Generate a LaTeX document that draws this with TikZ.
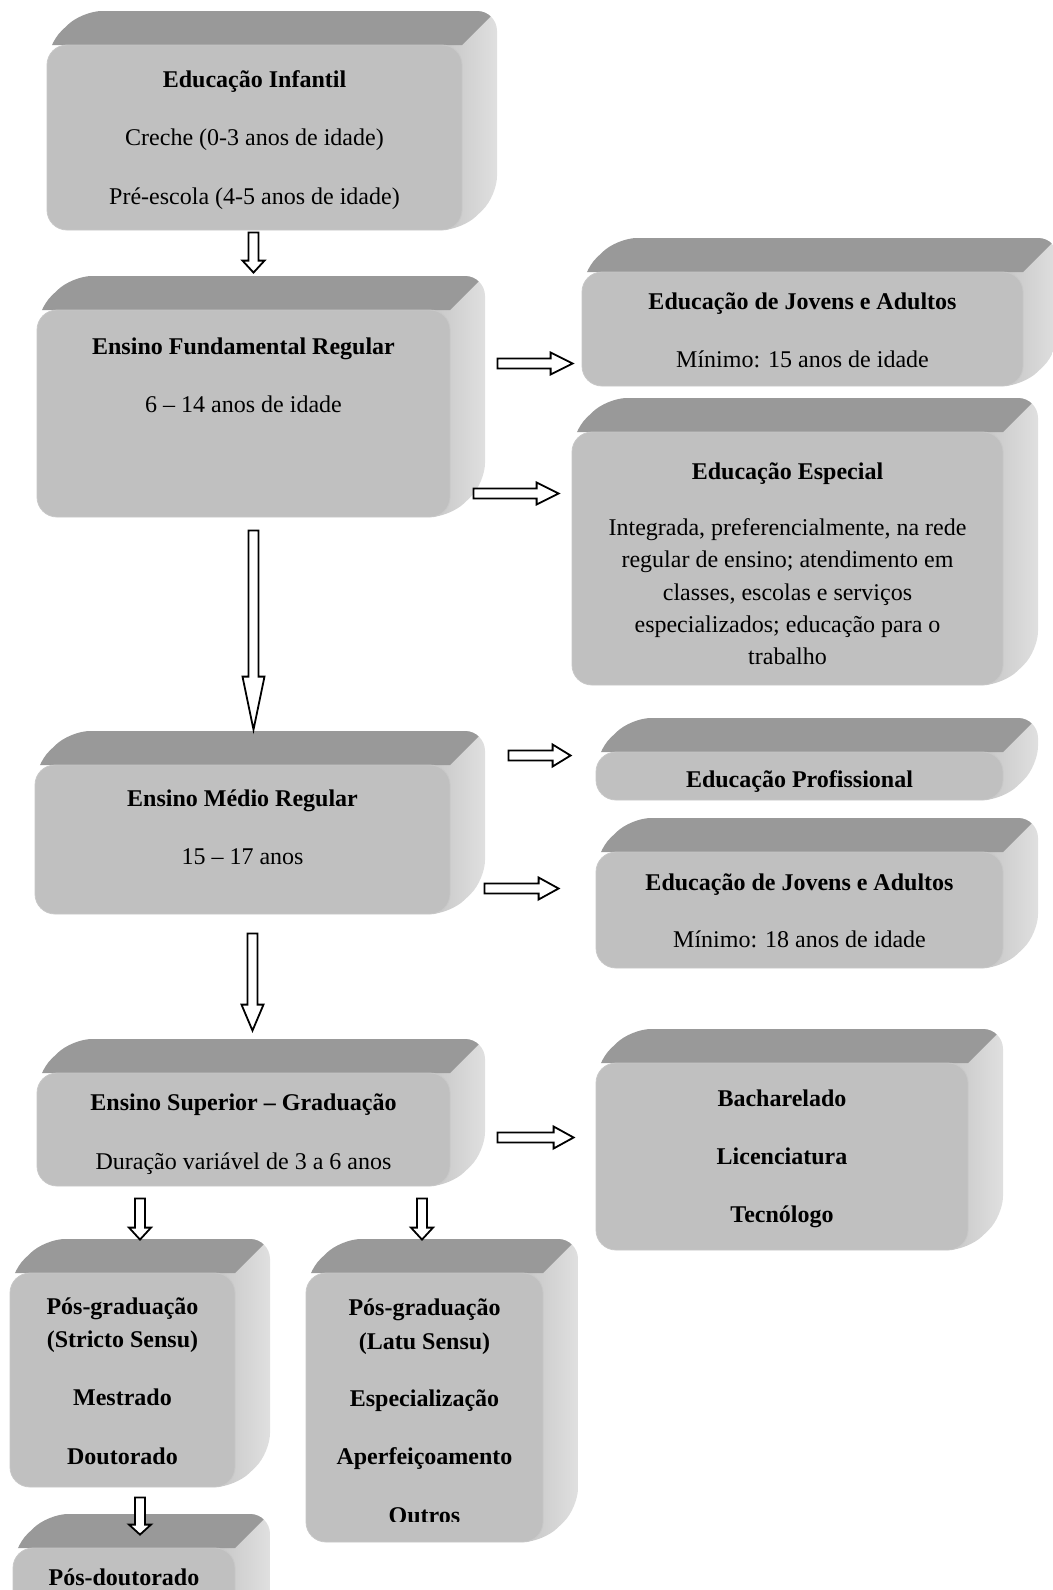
\documentclass[tikz,border=0pt]{standalone}
\usepackage{fontspec}
\setmainfont{Liberation Serif}
\usepackage{tikz}
\usetikzlibrary{calc}
\usepackage{xcolor}

\definecolor{cinzatopo}{HTML}{999999}
\definecolor{cinzafrente}{HTML}{C0C0C0}
\definecolor{cinzaborda}{HTML}{C8C8C8}
\definecolor{ladoA}{HTML}{C6C6C6}
\definecolor{ladoB}{HTML}{E2E2E2}

\tikzset{
  frente/.style={fill=cinzafrente, draw=cinzaborda, line width=0.4pt, rounded corners=10pt, inner sep=0pt},
  linha/.style={anchor=base, inner sep=0pt, font=\fontsize{12pt}{14pt}\selectfont},
  setabloco/.style={draw=black, fill=white, line width=0.9pt, line join=miter}
}

% caixa 3D: nome, x1, y1, x2, y2 (face da frente)
\newcommand{\caixa}[5]{%
  \begin{scope}
    \clip[rounded corners=10pt] (#2,#5) -- (#2,#3) -- (#2+35,#3-34) -- (#4+35,#3-34) -- (#4+35,#5-34) -- (#4,#5) -- cycle;
    \shade[left color=ladoA, right color=ladoB] (#4-20,#3-60) rectangle (#4+40,#5+10);
    \fill[cinzatopo] (#2-40,#3) -- (#2-40,#3-60) -- (#4+60,#3-60) -- (#4,#3) -- cycle;
  \end{scope}
  \node[frente, minimum width={(#4-#2)*0.5pt}, minimum height={(#5-#3)*0.5pt}] (#1) at ({(#2+#4)/2},{(#3+#5)/2}) {};
}

% seta em bloco: [comprimento da ponta]{inicio}{fim}
\newcommand{\seta}[3][6pt]{%
  \path (#2) coordinate (s) (#3) coordinate (e) ($(e)!#1!(s)$) coordinate (h);
  \draw[setabloco] ($(s)!2.5pt!90:(e)$) -- ($(h)!2.5pt!90:(e)$) -- ($(h)!5.5pt!90:(e)$) -- (e)
    -- ($(h)!5.5pt!-90:(e)$) -- ($(h)!2.5pt!-90:(e)$) -- ($(s)!2.5pt!-90:(e)$) -- cycle;
}

\begin{document}
\begin{tikzpicture}[x=0.5pt,y=-0.5pt]
 \path[use as bounding box, fill=white] (0,0) rectangle (1053,1590);

 \caixa{inf}{47}{45}{462}{230}
 \caixa{fund}{37}{310}{450}{517}
 \caixa{eja1}{582}{272}{1023}{386}
 \caixa{esp}{572}{432}{1003}{685}
 \caixa{med}{35}{765}{450}{914}
 \caixa{prof}{596}{752}{1003}{800}
 \caixa{eja2}{596}{852}{1003}{968}
 \caixa{sup}{37}{1073}{450}{1186}
 \caixa{bach}{596}{1063}{968}{1250}
 \caixa{str}{10}{1273}{235}{1487}
 \caixa{lat}{306}{1273}{543}{1542}
 \caixa{pd}{13}{1548}{235}{1650}

 %%%%%%%%%%%%%%%%%%%%%%%%%%%%%%%%%%%

 \foreach \d/\t [count=\i] in {43/\textbf{Educação Infantil}, 101/Creche (0-3 anos de idade), 160/Pré-escola (4-5 anos de idade)}
   \node[linha] (inf-\i) at ($(inf.north)+(0,\d)$) {\t};
 \foreach \d/\t [count=\i] in {45/\textbf{Ensino Fundamental Regular}, 103/6 – 14 anos de idade}
   \node[linha] (fund-\i) at ($(fund.north)+(0,\d)$) {\t};
 \foreach \d/\t [count=\i] in {38/\textbf{Educação de Jovens e Adultos}, 96/Mínimo: 15 anos de idade}
   \node[linha] (eja1-\i) at ($(eja1.north)+(0,\d)$) {\t};
 \foreach \d/\t [count=\i] in {48/\textbf{Educação Especial}, 104/{Integrada, preferencialmente, na rede}, 136/regular de ensino; atendimento em, 169/{classes, escolas e serviços}, 201/especializados; educação para o, 233/trabalho}
   \node[linha] (esp-\i) at ($(esp.north)+(0,\d)$) {\t};
 \foreach \d/\t [count=\i] in {42/\textbf{Ensino Médio Regular}, 100/15 – 17 anos}
   \node[linha] (med-\i) at ($(med.north)+(0,\d)$) {\t};
 \node[linha] (prof-1) at ($(prof.north)+(0,36)$) {\textbf{Educação Profissional}};
 \foreach \d/\t [count=\i] in {39/\textbf{Educação de Jovens e Adultos}, 96/Mínimo: 18 anos de idade}
   \node[linha] (eja2-\i) at ($(eja2.north)+(0,\d)$) {\t};
 \foreach \d/\t [count=\i] in {38/\textbf{Ensino Superior – Graduação}, 97/Duração variável de 3 a 6 anos}
   \node[linha] (sup-\i) at ($(sup.north)+(0,\d)$) {\t};
 \foreach \d/\t [count=\i] in {44/Bacharelado, 102/Licenciatura, 160/Tecnólogo}
   \node[linha, font=\fontsize{12pt}{14pt}\selectfont\bfseries] (bach-\i) at ($(bach.north)+(0,\d)$) {\t};
 \foreach \d/\t [count=\i] in {42/Pós-graduação, 75/(Stricto Sensu), 133/Mestrado, 192/Doutorado}
   \node[linha, font=\fontsize{12pt}{14pt}\selectfont\bfseries] (str-\i) at ($(str.north)+(0,\d)$) {\t};
 \foreach \d/\t [count=\i] in {43/Pós-graduação, 77/(Latu Sensu), 134/Especialização, 192/Aperfeiçoamento}
   \node[linha, font=\fontsize{12pt}{14pt}\selectfont\bfseries] (lat-\i) at ($(lat.north)+(0,\d)$) {\t};
 \begin{scope}
   \clip (306,1490) rectangle (543,1521);
   \node[linha, font=\fontsize{12pt}{14pt}\selectfont\bfseries] (lat-5) at ($(lat.north)+(0,251)$) {Outros};
 \end{scope}
 \node[linha, font=\fontsize{12pt}{14pt}\selectfont\bfseries] (pd-1) at ($(pd.north)+(0,38)$) {Pós-doutorado};

 %%%%%%%%%%%%%%%%%%%%%%%%%%%%%%%%%%%

 \seta[6pt]{$(inf.south)+(-1,2)$}{$(inf.south |- fund.north)+(-1,-37)$}
 \seta[11pt]{$(fund.east)+(47,-50)$}{$(fund.east -| eja1.west)+(-9,-50)$}
 \seta[11pt]{$(fund.east)+(23,80)$}{$(fund.east -| esp.west)+(-13,80)$}
 \seta[26.5pt]{$(fund.south)+(10,13)$}{$(fund.south |- med.north)+(10,-35)$}
 \seta[9pt]{$(med.east)+(58,-84)$}{$(med.east -| prof.west)+(-25,-84)$}
 \seta[10pt]{$(med.east)+(34,49)$}{$(med.east -| eja2.west)+(-37,49)$}
 \seta[13pt]{$(med.south)+(10,19)$}{$(med.south |- sup.north)+(10,-42)$}
 \seta[10pt]{$(sup.east)+(47,8)$}{$(sup.east -| bach.west)+(-22,8)$}
 \seta[6pt]{$(str.north |- sup.south)+(17.5,12)$}{$(str.north)+(17.5,-33)$}
 \seta[6pt]{$(lat.north |- sup.south)+(-2.5,12)$}{$(lat.north)+(-2.5,-33)$}
 \seta[5pt]{$(str.south)+(17.5,10)$}{$(str.south |- pd.north)+(17.5,-13)$}

\end{tikzpicture}
\end{document}
